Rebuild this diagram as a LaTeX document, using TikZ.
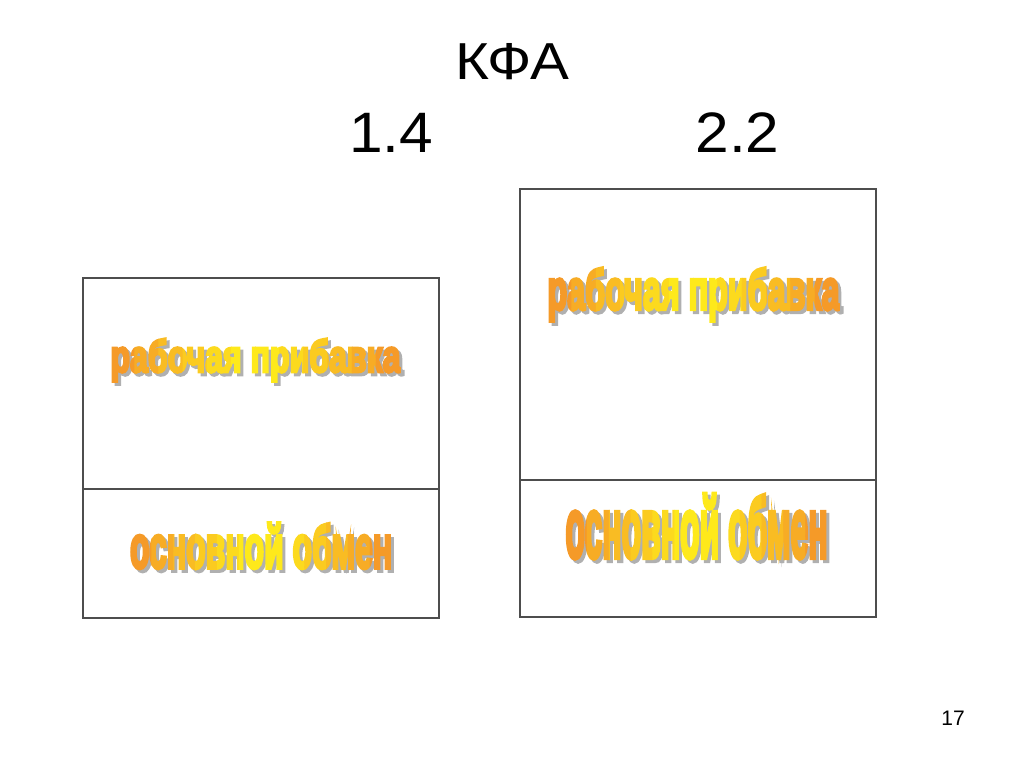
\documentclass[tikz,border=0pt]{standalone}
\usepackage{fontspec}
\setmainfont{Liberation Sans}
\newfontfamily\artfont{Liberation Sans}[BoldFeatures={FakeBold=6}]
\usepackage{graphicx}

\definecolor{frame}{HTML}{4D4D4D}
\definecolor{artorange}{HTML}{F4902A}
\definecolor{artyellow}{HTML}{FFF01A}
\definecolor{artshadow}{HTML}{B0B0B0}

% WordArt-like label: name, centre x, centre of x-height y, width, x-height, text
\newcommand{\artbox}[3]{\resizebox{#1pt}{#2pt}{\artfont\bfseries\raisebox{0pt}[1ex][0pt]{#3}}}
\newcommand{\wordart}[6]{%
  \node[art, text=artshadow] (#1-shadow) at (#2+3,#3+3) {\artbox{#4}{#5}{#6}};
  \foreach \i in {0,...,11} {
    \pgfmathsetmacro{\mixval}{100*(1-abs((\i+0.5)/6-1))^0.9}
    \begin{scope}
      \clip (#2-#4/2+\i*#4/12-0.4,#3-1.5*#5) rectangle ++(#4/12+0.8,3*#5);
      \node[art, text=artyellow!\mixval!artorange] (#1-\i) at (#2,#3) {\artbox{#4}{#5}{#6}};
    \end{scope}
  }
}

\begin{document}
\begin{tikzpicture}[x=1pt, y=-1pt,
    art/.style={inner sep=0pt, anchor=center},
    box/.style={draw=frame, line width=1.5pt}]
    \useasboundingbox (0,0) rectangle (1024,767);

    % title
    \node[anchor=base, font=\fontsize{52}{60}\selectfont] (title) at (512.5,80) {\scalebox{1.12}[1]{КФА}};
    \node[anchor=base, font=\fontsize{57}{64}\selectfont] (low) at (391,153) {\scalebox{1.06}[1]{1.4}};
    \node[anchor=base, font=\fontsize{57}{64}\selectfont] (high) at (737.5,153) {\scalebox{1.06}[1]{2.2}};

    % boxes
    \draw[box] (83,278) rectangle (439,618);
    \draw[box] (83,489) -- (439,489);
    \draw[box] (520,189) rectangle (876,617);
    \draw[box] (520,480) -- (876,480);

    % labels
    \wordart{workl}{255.5}{360}{290}{24}{рабочая прибавка}
    \wordart{basel}{261}{552}{262}{32}{основной обмен}
    \wordart{workr}{693.5}{294.5}{292}{30}{рабочая прибавка}
    \wordart{baser}{696.5}{535}{262}{45}{основной обмен}

    \node[anchor=base, font=\fontsize{21}{24}\selectfont] (page) at (953,725) {17};
\end{tikzpicture}
\end{document}
